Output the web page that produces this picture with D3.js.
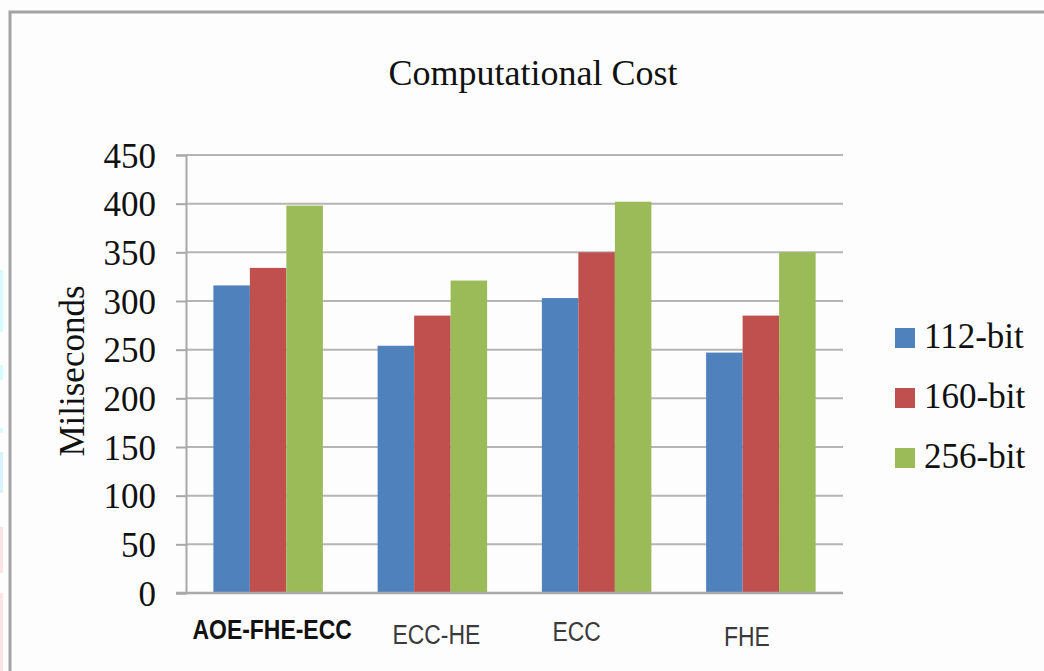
<!DOCTYPE html>
<html>
<head>
<meta charset="utf-8">
<script src="https://cdn.jsdelivr.net/npm/d3@7"></script>
<style>
  html, body { margin: 0; padding: 0; background: #fdfdfd; }
  svg { display: block; }
</style>
</head>
<body>
<svg id="chart" width="1044" height="671"></svg>
<script>
// Chart data
const categories = ["AOE-FHE-ECC", "ECC-HE", "ECC", "FHE"];
const seriesNames = ["112-bit", "160-bit", "256-bit"];
const values112 = [316, 254, 303, 247];
const values160 = [334, 285, 350, 285];
const values256 = [398, 321, 402, 350];
const yTicks = [0, 50, 100, 150, 200, 250, 300, 350, 400, 450];
const colors = ["#4F81BD", "#C0504D", "#9BBB59"];

const seriesValues = [values112, values160, values256];
const rows = categories.map((c, i) => ({
  category: c,
  values: seriesNames.map((s, k) => ({ series: s, value: seriesValues[k][i] }))
}));

const svg = d3.select("#chart");
const W = 1044, H = 671;

// Frame around the chart area
svg.append("rect")
  .attr("x", 10).attr("y", 12)
  .attr("width", W + 10).attr("height", H + 10)
  .attr("fill", "#fdfdfd")
  .attr("stroke", "#a3a3a3").attr("stroke-width", 3);

// Faint strips along the left edge
const edgeStrips = [
  [270, 332, "#d8fbfd"], [365, 380, "#d8fbfd"], [428, 433, "#d8fbfd"],
  [452, 493, "#d8f3fd"], [527, 573, "#fde3e3"], [593, 671, "#fde3e3"]
];
svg.selectAll("rect.strip").data(edgeStrips).join("rect")
  .attr("class", "strip")
  .attr("x", 0).attr("width", 3)
  .attr("y", d => d[0]).attr("height", d => d[1] - d[0])
  .attr("fill", d => d[2]);

// Plot area
const plot = { left: 186, right: 843, top: 155, bottom: 593 };

const x0 = d3.scaleBand()
  .domain(categories)
  .range([plot.left, plot.right])
  .paddingInner(0).paddingOuter(0);

// 3 bars per group; the gap between groups is 1.5 bar widths
const x1 = d3.scaleBand()
  .domain(seriesNames)
  .range([0, x0.bandwidth()])
  .paddingInner(0)
  .paddingOuter(0.75);

const y = d3.scaleLinear().domain([0, 450]).range([plot.bottom, plot.top]);
const color = d3.scaleOrdinal().domain(seriesNames).range(colors);

// Gridlines
svg.append("g")
  .selectAll("line")
  .data(yTicks.filter(t => t > 0))
  .join("line")
  .attr("x1", plot.left).attr("x2", plot.right)
  .attr("y1", d => y(d)).attr("y2", d => y(d))
  .attr("stroke", "#b5b5b5").attr("stroke-width", 2);

// Y axis with outward ticks
const yAxis = d3.axisLeft(y).tickValues(yTicks).tickSize(10).tickPadding(20);
const yg = svg.append("g")
  .attr("transform", `translate(${plot.left},0)`)
  .call(yAxis);
yg.select(".domain").attr("stroke", "#a8a8a8").attr("stroke-width", 2);
yg.selectAll(".tick line").attr("stroke", "#a8a8a8").attr("stroke-width", 2);
yg.selectAll(".tick text")
  .attr("font-family", "'Liberation Serif', 'Times New Roman', serif")
  .attr("font-size", 35)
  .attr("fill", "#111")
  .attr("dy", "0.35em");

// Bars
svg.append("g")
  .selectAll("g")
  .data(rows)
  .join("g")
  .attr("transform", d => `translate(${x0(d.category)},0)`)
  .selectAll("rect")
  .data(d => d.values)
  .join("rect")
  .attr("x", d => x1(d.series))
  .attr("width", x1.bandwidth())
  .attr("y", d => y(d.value))
  .attr("height", d => y(0) - y(d.value))
  .attr("fill", d => color(d.series));

// X axis baseline
svg.append("line")
  .attr("x1", plot.left - 10).attr("x2", plot.right)
  .attr("y1", y(0)).attr("y2", y(0))
  .attr("stroke", "#a8a8a8").attr("stroke-width", 2.5);

// Category labels in a condensed sans face (first one emphasised)
const labelNudge = [
  { dx: 4, y: 639 }, { dx: 4, y: 644 }, { dx: -20, y: 641 }, { dx: -14, y: 646 }
];
svg.append("g")
  .selectAll("text")
  .data(categories)
  .join("text")
  .attr("transform", (d, i) =>
    `translate(${x0(d) + x0.bandwidth() / 2 + labelNudge[i].dx},${labelNudge[i].y}) scale(0.85,1)`)
  .attr("text-anchor", "middle")
  .attr("font-family", "'Liberation Sans', Arial, sans-serif")
  .attr("font-size", 27)
  .attr("font-weight", (d, i) => i === 0 ? "bold" : "normal")
  .attr("fill", (d, i) => i === 0 ? "#111" : "#3a3a3a")
  .text(d => d);

// Title
svg.append("text")
  .attr("x", 533).attr("y", 85)
  .attr("text-anchor", "middle")
  .attr("font-family", "'Liberation Serif', 'Times New Roman', serif")
  .attr("font-size", 36)
  .attr("fill", "#111")
  .text("Computational Cost");

// Y axis title
svg.append("text")
  .attr("transform", "translate(84,371) rotate(-90)")
  .attr("text-anchor", "middle")
  .attr("font-family", "'Liberation Serif', 'Times New Roman', serif")
  .attr("font-size", 35)
  .attr("fill", "#111")
  .text("Miliseconds");

// Legend
const legend = svg.append("g")
  .selectAll("g")
  .data(seriesNames)
  .join("g")
  .attr("transform", (d, i) => `translate(895,${328 + i * 60})`);
legend.append("rect")
  .attr("width", 20).attr("height", 20)
  .attr("fill", d => color(d));
legend.append("text")
  .attr("x", 29).attr("y", 20)
  .attr("font-family", "'Liberation Serif', 'Times New Roman', serif")
  .attr("font-size", 35)
  .attr("fill", "#111")
  .text(d => d);
</script>
</body>
</html>
